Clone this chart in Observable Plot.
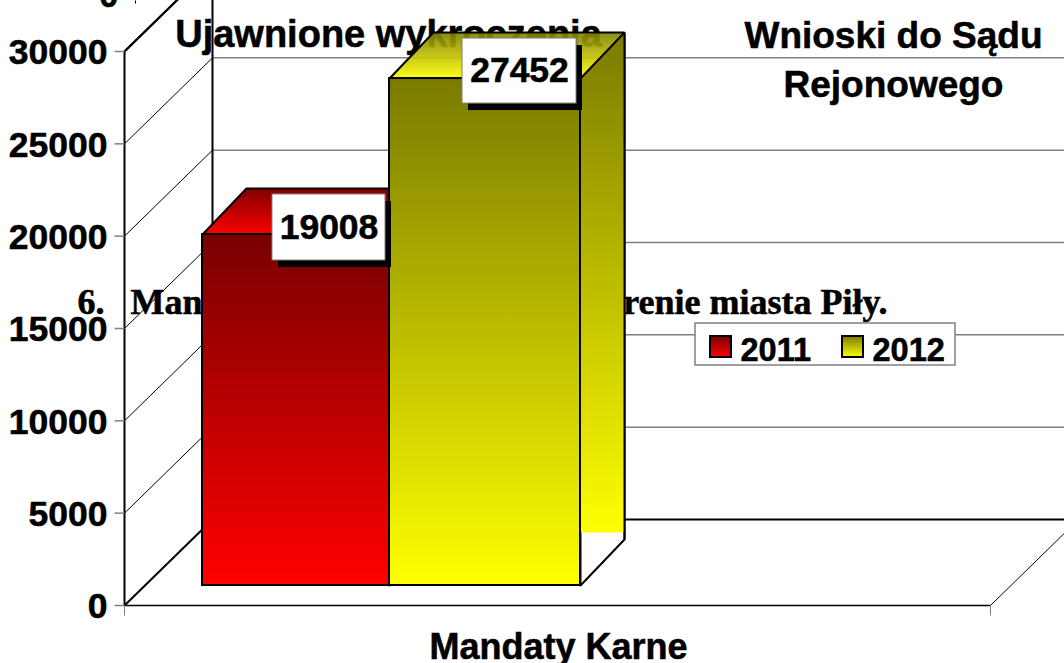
<!DOCTYPE html>
<html><head><meta charset="utf-8">
<style>html,body{margin:0;padding:0;background:#fff}svg{display:block}svg text{stroke:#000;stroke-width:.55px}</style>
<script src="https://cdn.jsdelivr.net/npm/d3@7"></script>
<script src="https://cdn.jsdelivr.net/npm/@observablehq/plot@0.6"></script>
</head><body><div id="chart"></div>
<script>
const seriesNames = ["2011", "2012"];
const seriesValues = [19008, 27452];
const yTicks = [0, 5000, 10000, 15000, 20000, 25000, 30000];
const categoryLabels = ["Ujawnione wykroczenia", "Wnioski do Sądu\nRejonowego", "Mandaty Karne"];
const backgroundText = ["6.", "Mandaty karne nałożone na", "terenie miasta Piły."];

// pixel layout helpers: plot frame -> data units
const X0 = 124, X1 = 990, Y0 = 605, Y30k = 51;
const ux = px => px / (X1 - X0);
const uy = px => px / (Y0 - Y30k) * 30000;
const atX = px => (px - X0) / (X1 - X0);
const atY = py => (Y0 - py) / (Y0 - Y30k) * 30000;
const WALL_X = ux(88), WALL_Y = uy(86);
const FRONT_X = ux(20), FRONT_Y = uy(20);
const DEPTH_X = ux(44), DEPTH_Y = uy(46);
const barEdges = [atX(182), atX(369), atX(560)];
const SIDE_CUT = atY(532);
const barGrad = ["gRed", "gYel"], topGrad = ["gRedT", "gYelT"], topOpacity = [1, 0.9];

const poly = (pts, o) => Plot.line([...pts, pts[0]].map(([x, y]) => ({x, y})), {x: "x", y: "y", curve: "linear", strokeLinejoin: "miter", ...o});
const seg = (x1, y1, x2, y2, stroke, strokeWidth) => Plot.link([{x1, y1, x2, y2}], {x1: "x1", y1: "y1", x2: "x2", y2: "y2", stroke, strokeWidth});

function gradients() {
  const defs = d3.create("svg:defs");
  const add = (id, c1, c2) => {
    const g = defs.append("linearGradient").attr("id", id).attr("x1", 0).attr("y1", 0).attr("x2", 0).attr("y2", 1);
    g.append("stop").attr("offset", 0).attr("stop-color", c1);
    g.append("stop").attr("offset", 1).attr("stop-color", c2);
  };
  add("gRed", "#780000", "#ff0000");
  add("gYel", "#7a7a00", "#ffff00");
  add("gRedT", "#800000", "#ff0000");
  add("gYelT", "#7f7f00", "#ffff00");
  return defs.node();
}

const sans = {fontFamily: "Liberation Sans", fontWeight: "bold"};
const serif = {fontFamily: "Liberation Serif", fontWeight: "bold", fontSize: 36};

const marks = [
  gradients,
  // text sitting behind the chart
  Plot.text([backgroundText[0]], {x: atX(77), y: atY(302), text: d => d, textAnchor: "start", ...serif}),
  Plot.text([backgroundText[1]], {x: atX(130), y: atY(302), text: d => d, textAnchor: "start", ...serif}),
  Plot.text([backgroundText[2]], {x: atX(887), y: atY(302), text: d => d, textAnchor: "end", ...serif}),
  Plot.text([categoryLabels[0]], {x: atX(388), y: atY(34), text: d => d, fontSize: 38, ...sans}),
  Plot.text([categoryLabels[1]], {x: atX(893), y: atY(56), text: d => d, fontSize: 37, lineHeight: 1.32, ...sans}),
  Plot.text([categoryLabels[2]], {x: atX(558), y: atY(647), text: d => d, fontSize: 36, ...sans}),
  Plot.text(["0"], {x: atX(118), y: atY(-5), text: d => d, textAnchor: "end", fontSize: 35, ...sans}),
  // back wall gridlines and side wall diagonals
  ...yTicks.filter(t => t > 0).map(t => seg(WALL_X, t + WALL_Y, 1 + WALL_X, t + WALL_Y, "#808080", 1.5)),
  seg(WALL_X, WALL_Y, 1 + WALL_X, WALL_Y, "#000", 2),
  ...yTicks.filter(t => t > 0).map(t => seg(0, t, WALL_X, t + WALL_Y, "#000", t === 30000 ? 2 : 1)),
  seg(0, 30000, 2 * WALL_X, 30000 + 2 * WALL_Y, "#000", 2),
  seg(0, 0, WALL_X, WALL_Y, "#000", 2),
  seg(1, 0, 1 + WALL_X, WALL_Y, "#000", 1),
  seg(WALL_X, WALL_Y, WALL_X, atY(-5), "#000", 2),
  seg(0, 0, 0, 30000, "#000", 2),
  seg(0, 0, 1, 0, "#000", 1.5),
  seg(0, 0, 0, atY(615), "#808080", 1),
  seg(1, 0, 1, atY(615), "#808080", 1),
  seg(atX(135), atY(0), atX(135), atY(3), "#000", 1),
  ...yTicks.map(t => seg(ux(-10), t, 0, t, "#808080", 1.5)),
  Plot.axisY({ticks: yTicks, tickFormat: d => String(d), label: null, tickSize: 0, tickPadding: 17, dy: 1.5, fontSize: 35.5, ...sans, fill: "#000"}),
  // bars: side + top + front
  ...seriesValues.flatMap((v, i) => {
    const xa = barEdges[i] + FRONT_X, xb = barEdges[i + 1] + FRONT_X;
    const y0 = FRONT_Y, y1 = v + FRONT_Y;
    return [
      poly([[xb, y0], [xb + DEPTH_X, y0 + DEPTH_Y], [xb + DEPTH_X, y1 + DEPTH_Y], [xb, y1]], {fill: "#fff", stroke: "#000", strokeWidth: 2}),
      poly([[xb, SIDE_CUT], [xb + DEPTH_X, SIDE_CUT], [xb + DEPTH_X, y1 + DEPTH_Y], [xb, y1]], {fill: "url(#" + barGrad[i] + ")", stroke: "none"}),
      seg(xb + DEPTH_X, y0 + DEPTH_Y, xb + DEPTH_X, y1 + DEPTH_Y, "#000", 2),
      poly([[xa, y1], [xb, y1], [xb + DEPTH_X, y1 + DEPTH_Y], [xa + DEPTH_X, y1 + DEPTH_Y]], {fill: "url(#" + topGrad[i] + ")", fillOpacity: topOpacity[i], stroke: "#000", strokeWidth: 2}),
      Plot.rect([{}], {x1: xa, x2: xb, y1: y0, y2: y1, fill: "url(#" + barGrad[i] + ")", stroke: "#000", strokeWidth: 2})
    ];
  }),
  // value label boxes
  ...seriesValues.flatMap((v, i) => {
    const xr = barEdges[i + 1] + FRONT_X, top = v + FRONT_Y;
    const offs = [{l: -117, r: -4, t: -40, b: 26}, {l: -118, r: -4, t: -40, b: 25}][i];
    const xa = xr + ux(offs.l), xb = xr + ux(offs.r), ya = top - uy(offs.t), yb = top - uy(offs.b);
    const sx = ux(6), sy = uy(7);
    return [
      Plot.rect([{}], {x1: xa + sx, x2: xb + sx, y1: ya - sy, y2: yb - sy, fill: "#000"}),
      Plot.rect([{}], {x1: xa, x2: xb, y1: ya, y2: yb, fill: "#fff", stroke: "#808080", strokeWidth: 1}),
      Plot.text([v], {x: (xa + xb) / 2, y: (ya + yb) / 2, text: d => String(d), fontSize: 35.5, ...sans})
    ];
  }),
  // legend
  Plot.rect([{}], {x1: atX(695), x2: atX(955), y1: atY(323), y2: atY(365), fill: "#fff", stroke: "#808080", strokeWidth: 1.5}),
  ...seriesNames.flatMap((s, i) => {
    const sx = [710, 842][i], tx = [740, 872][i];
    return [
      Plot.rect([{}], {x1: atX(sx), x2: atX(sx + 21), y1: atY(336), y2: atY(357), fill: "url(#" + barGrad[i] + ")", stroke: "#000", strokeWidth: 2}),
      Plot.text([s], {x: atX(tx), y: atY(350), text: d => d, textAnchor: "start", fontSize: 32.5, ...sans})
    ];
  })
];

const chart = Plot.plot({
  width: 1064, height: 663,
  marginLeft: X0, marginRight: 1064 - X1, marginTop: 51, marginBottom: 663 - Y0,
  style: {background: "#fff", overflow: "hidden"},
  x: {domain: [0, 1], range: [X0, X1], axis: null},
  y: {domain: [0, 30000], range: [Y0, Y30k], axis: null},
  marks
});
document.getElementById("chart").appendChild(chart);
</script></body></html>
